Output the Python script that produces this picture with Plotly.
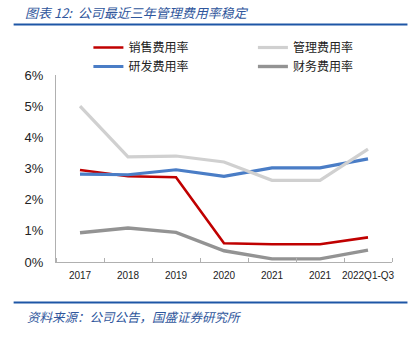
import plotly.graph_objects as go

categories = ["2017", "2018", "2019", "2020", "2021", "2021", "2022Q1-Q3"]
sales = [2.95, 2.75, 2.72, 0.60, 0.57, 0.57, 0.79]
admin = [5.00, 3.37, 3.40, 3.21, 2.62, 2.62, 3.62]
rnd = [2.82, 2.80, 2.96, 2.75, 3.02, 3.02, 3.31]
fin = [0.94, 1.09, 0.95, 0.36, 0.10, 0.10, 0.38]
yticks = [0, 1, 2, 3, 4, 5, 6]
ytick_labels = ["0%", "1%", "2%", "3%", "4%", "5%", "6%"]

xs = list(range(len(categories)))

W, H = 414, 342
L, R, T, B = 55.5, 21.5, 75, 80
pw = W - L - R
ph = H - T - B


def px(x):
    return (x - L) / pw


def py(y):
    return (H - B - y) / ph


fig = go.Figure()
series = [
    ("销售费用率", sales, "#C00000", 2.6, "legend"),
    ("研发费用率", rnd, "#4A7DC6", 3.2, "legend"),
    ("管理费用率", admin, "#D0D0D0", 3.2, "legend2"),
    ("财务费用率", fin, "#939393", 3.4, "legend2"),
]
for name, vals, color, w, lg in series:
    fig.add_trace(go.Scatter(x=xs, y=vals, name=name, mode="lines",
                             line=dict(color=color, width=w), legend=lg))

legend_font = dict(family="Noto Sans CJK SC", size=12, color="#222")
fig.update_layout(
    width=W, height=H,
    margin=dict(l=L, r=R, t=T, b=B),
    paper_bgcolor="white", plot_bgcolor="white",
    showlegend=True,
    legend=dict(x=px(88), y=py(33), xanchor="left", yanchor="top",
                font=legend_font, bgcolor="rgba(0,0,0,0)",
                tracegroupgap=0, itemwidth=30),
    legend2=dict(x=px(253), y=py(33), xanchor="left", yanchor="top",
                 font=legend_font, bgcolor="rgba(0,0,0,0)",
                 tracegroupgap=0, itemwidth=30),
    xaxis=dict(range=[-0.5, len(categories) - 0.5], tickvals=xs, ticktext=categories,
               showgrid=False, zeroline=False, showline=True, linecolor="#B0B0B0",
               linewidth=1.3, ticks="",
               tickfont=dict(family="Liberation Sans", size=10, color="#222"),
               ticklabelstandoff=4,
               minor=dict(tickvals=[i - 0.5 for i in range(len(categories) + 1)],
                          ticks="inside", ticklen=4, tickcolor="#B0B0B0", tickwidth=1),
               fixedrange=True),
    yaxis=dict(range=[0, 6], tickvals=yticks, ticktext=ytick_labels,
               showgrid=False, zeroline=False, showline=True, linecolor="#B0B0B0",
               linewidth=1.3, ticks="",
               tickfont=dict(family="Liberation Sans", size=13, color="#222"),
               ticklabelstandoff=9, fixedrange=True),
)

title_color = "#2F569C"
fig.add_annotation(text="图表 12:  公司最近三年管理费用率稳定", xref="paper", yref="paper",
                   x=px(22), y=py(12), xanchor="left", yanchor="middle", showarrow=False,
                   font=dict(family="Noto Sans CJK SC", size=13, color=title_color, style="italic"))
fig.add_annotation(text="资料来源：公司公告，国盛证券研究所", xref="paper", yref="paper",
                   x=px(24), y=py(316), xanchor="left", yanchor="middle", showarrow=False,
                   font=dict(family="Noto Sans CJK SC", size=12.5, color=title_color, style="italic"))
for yy in (24.5, 302.5):
    fig.add_shape(type="line", xref="paper", yref="paper", x0=px(13), x1=px(408),
                  y0=py(yy), y1=py(yy), line=dict(color="#1E56A6", width=2))

fig.write_html("out.html")
